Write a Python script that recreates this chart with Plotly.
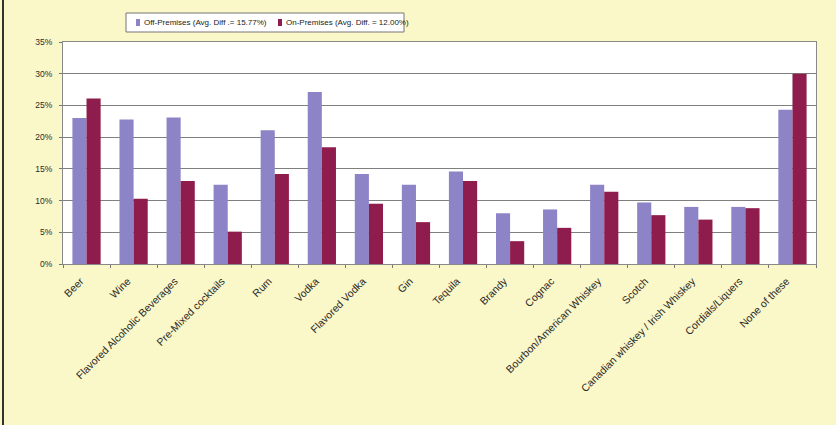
import plotly.graph_objects as go

# Share of respondents by beverage category
categories = [
    "Beer", "Wine", "Flavored Alcoholic Beverages", "Pre-Mixed cocktails",
    "Rum", "Vodka", "Flavored Vodka", "Gin", "Tequila", "Brandy", "Cognac",
    "Bourbon/American Whiskey", "Scotch", "Canadian whiskey / Irish Whiskey",
    "Cordials/Liquers", "None of these",
]
off_premises = [23.0, 22.8, 23.1, 12.5, 21.1, 27.1, 14.2, 12.5, 14.6, 8.0, 8.6,
                12.5, 9.7, 9.0, 9.0, 24.3]
on_premises = [26.1, 10.3, 13.1, 5.1, 14.2, 18.4, 9.5, 6.6, 13.1, 3.6, 5.7,
               11.4, 7.7, 7.0, 8.8, 30.0]
series_names = ["Off-Premises (Avg. Diff .= 15.77%)",
                "On-Premises (Avg. Diff. = 12.00%)"]
y_ticks = [0, 5, 10, 15, 20, 25, 30, 35]

OFF_COLOR = "#8c84c6"
ON_COLOR = "#8e1c4c"
PAPER = "#faf7c8"
FONT = "Arial, Liberation Sans, sans-serif"

W, H = 836, 425
M_L, M_R, M_T, M_B = 63, 20, 42, 161
PW, PH = W - M_L - M_R, H - M_T - M_B


def px_x(x):
    return (x - M_L) / PW


def px_y(y):
    return (H - M_B - y) / PH


fig = go.Figure()
for name, vals, color in zip(series_names, [off_premises, on_premises],
                             [OFF_COLOR, ON_COLOR]):
    fig.add_trace(go.Bar(
        x=categories, y=vals, name=name,
        marker=dict(color=color, line=dict(width=0)),
    ))

fig.update_layout(
    width=W, height=H,
    margin=dict(l=M_L, r=M_R, t=M_T, b=M_B, autoexpand=False),
    paper_bgcolor=PAPER,
    plot_bgcolor="#ffffff",
    barmode="group",
    bargap=0.4,
    bargroupgap=0,
    font=dict(family=FONT, size=9, color="#333333"),
    showlegend=False,
    xaxis=dict(
        type="category",
        tickangle=-45,
        tickson="boundaries",
        ticks="outside", ticklen=3, tickcolor="#777777",
        ticklabelshift=-6,
        ticklabelstandoff=6,
        showline=True, linecolor="#888888", linewidth=1,
        mirror=True,
        showgrid=False,
        tickfont=dict(family=FONT, size=10.5, color="#2a2a2a"),
    ),
    yaxis=dict(
        range=[0, 35],
        tickvals=y_ticks,
        ticktext=[f"{v}%" for v in y_ticks],
        ticks="outside", ticklen=3, tickcolor="#777777",
        ticklabelstandoff=5,
        showline=True, linecolor="#888888", linewidth=1,
        mirror=True,
        showgrid=True, gridcolor="#7f7f7f", gridwidth=1,
        zeroline=False,
        tickfont=dict(family=FONT, size=8.5, color="#2a2a2a"),
    ),
)

# Legend box above the plot
fig.add_shape(
    type="rect", xref="paper", yref="paper",
    x0=px_x(126), x1=px_x(404), y0=px_y(32), y1=px_y(13),
    fillcolor="#ffffff", line=dict(color="#777777", width=1),
)
legend_items = [(136, 142, OFF_COLOR, series_names[0]),
                (278, 284, ON_COLOR, series_names[1])]
for sx, tx, color, name in legend_items:
    fig.add_shape(
        type="rect", xref="paper", yref="paper",
        x0=px_x(sx), x1=px_x(sx + 4), y0=px_y(26), y1=px_y(19),
        fillcolor=color, line=dict(width=0),
    )
    fig.add_annotation(
        xref="paper", yref="paper", x=px_x(tx), y=px_y(22.5),
        xanchor="left", yanchor="middle", showarrow=False,
        text=name, font=dict(family=FONT, size=8, color="#222222"),
    )

# Dark frame edge along the left side of the page
fig.add_shape(
    type="line", xref="paper", yref="paper",
    x0=px_x(3), x1=px_x(3), y0=px_y(H), y1=px_y(0),
    line=dict(color="#333333", width=2),
)

fig.write_html("out.html")
